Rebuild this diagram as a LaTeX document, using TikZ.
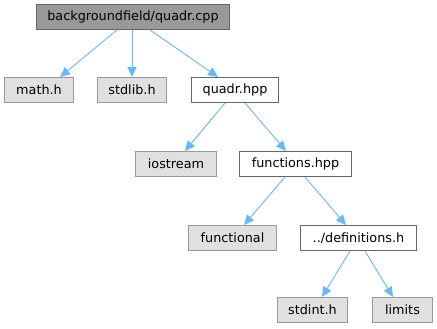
\documentclass[tikz,border=0pt]{standalone}
\usepackage{fontspec}
\setmainfont{DejaVu Sans}
\usetikzlibrary{arrows.meta}
\definecolor{edgec}{HTML}{63B8FF}
\definecolor{rootf}{HTML}{999999}
\definecolor{rootd}{HTML}{666666}
\definecolor{sysf}{HTML}{E0E0E0}
\definecolor{sysd}{HTML}{999999}
\tikzset{
  base/.style={draw, line width=1pt, inner sep=0pt, anchor=south west, font=\fontsize{12.8}{15}\selectfont, text=black},
  rootbox/.style={base, fill=rootf, draw=rootd},
  sysbox/.style={base, fill=sysf, draw=sysd},
  localbox/.style={base, fill=white, draw=rootd},
  edge/.style={draw=edgec, line width=0.9pt, -{Triangle[length=10pt,width=9pt]}},
}
\begin{document}
\begin{tikzpicture}[x=1pt,y=1pt]
\useasboundingbox (0,0) rectangle (437,-329);
\node[rootbox, minimum width=193pt, minimum height=25pt] (root) at (36,-30) {backgroundfield/quadr.cpp};
\node[sysbox, minimum width=69pt, minimum height=25pt] (math) at (4,-103) {math.h};
\node[sysbox, minimum width=69pt, minimum height=25pt] (stdlib) at (97,-103) {stdlib.h};
\node[localbox, minimum width=87pt, minimum height=25pt] (quadr) at (191,-103) {quadr.hpp};
\node[sysbox, minimum width=81pt, minimum height=25pt] (iostream) at (135,-177) {iostream};
\node[localbox, minimum width=112pt, minimum height=25pt] (func) at (239,-177) {functions.hpp};
\node[sysbox, minimum width=88pt, minimum height=25pt] (functional) at (188,-251) {functional};
\node[localbox, minimum width=116pt, minimum height=25pt] (defs) at (300,-251) {../definitions.h};
\node[sysbox, minimum width=70pt, minimum height=25pt] (stdint) at (277,-323) {stdint.h};
\node[sysbox, minimum width=60pt, minimum height=25pt] (limits) at (372,-323) {limits};
\draw[edge] (root.south -| 117,0) -- (math.north -| 60,0);
\draw[edge] (root.south -| 132,0) -- (stdlib.north -| 132,0);
\draw[edge] (root.south -| 150,0) -- (quadr.north -| 218,0);
\draw[edge] (quadr.south -| 225,0) -- (iostream.north -| 185,0);
\draw[edge] (quadr.south -| 245,0) -- (func.north -| 286,0);
\draw[edge] (func.south -| 285,0) -- (functional.north -| 244,0);
\draw[edge] (func.south -| 305,0) -- (defs.north -| 346,0);
\draw[edge] (defs.south -| 350,0) -- (stdint.north -| 322,0);
\draw[edge] (defs.south -| 365,0) -- (limits.north -| 393,0);
\end{tikzpicture}
\end{document}
